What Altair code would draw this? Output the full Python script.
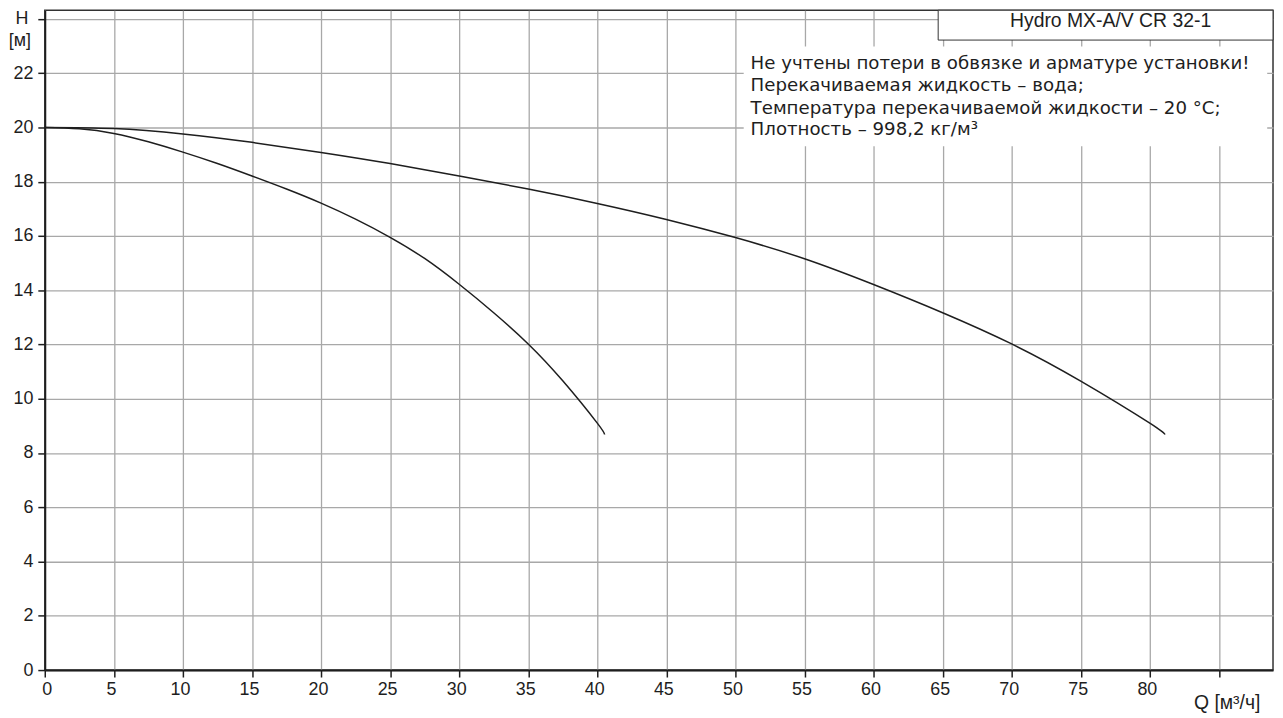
import altair as alt
import pandas as pd

# Curve data
q_one = [0, 2.5, 5, 7.5, 10, 12.5, 15, 17.5, 20, 22.5, 25, 27.5, 30, 32.5, 35, 37.5, 40, 40.53]
h_one = [20.0, 19.95, 19.78, 19.47, 19.09, 18.67, 18.21, 17.73, 17.21, 16.62, 15.95, 15.17, 14.22, 13.17, 12.02, 10.66, 9.1, 8.68]
q_two = [0, 5, 10, 15, 20, 25, 30, 35, 40, 45, 50, 55, 60, 65, 70, 75, 80, 81.1]
h_two = [20.0, 19.96, 19.76, 19.45, 19.08, 18.67, 18.21, 17.73, 17.2, 16.61, 15.94, 15.16, 14.21, 13.17, 12.02, 10.65, 9.1, 8.68]

x_ticks = list(range(0, 90, 5))
y_ticks = list(range(0, 26, 2))

title_text = "Hydro MX-A/V CR 32-1"
note_lines = [
    "Не учтены потери в обвязке и арматуре установки!",
    "Перекачиваемая жидкость – вода;",
    "Температура перекачиваемой жидкости – 20 °C;",
    "Плотность – 998,2 кг/м³",
]
note_y = [22.16, 21.33, 20.50, 19.71]

X_MAX = 88.92
Y_MAX = 24.32
FONT = "Liberation Sans"
NOTE_FONT = "DejaVu Sans"
INK = "#1e1e1e"

curves = pd.DataFrame(
    {"Q": q_one + q_two, "H": h_one + h_two,
     "curve": ["one"] * len(q_one) + ["two"] * len(q_two),
     "order": list(range(len(q_one))) + list(range(len(q_two)))}
)

xs = alt.Scale(domain=[0, X_MAX], nice=False, zero=False)
ys = alt.Scale(domain=[0, Y_MAX], nice=False, zero=False)

x_axis = alt.Axis(
    values=x_ticks, title=None, grid=True,
    labelExpr="datum.value == 85 ? '' : datum.label",
    labelOffset=-3, labelPadding=4,
)
y_axis = alt.Axis(
    values=y_ticks, title=None, grid=True,
    labelExpr="datum.value == 24 ? '' : datum.label",
    labelPadding=5,
)

lines = alt.Chart(curves).mark_line(
    interpolate="natural", color=INK, strokeWidth=1.5
).encode(
    x=alt.X("Q:Q", scale=xs, axis=x_axis),
    y=alt.Y("H:Q", scale=ys, axis=y_axis),
    detail="curve:N",
    order="order:Q",
)

base = alt.Chart(pd.DataFrame({"a": [0]}))

note_bg = base.mark_rect(color="white").encode(
    x=alt.datum(50.6, scale=xs), x2=alt.datum(88.5),
    y=alt.datum(22.98, scale=ys), y2=alt.datum(19.31),
)

title_box = base.mark_rect(fill="white", stroke="#333333", strokeWidth=1).encode(
    x=alt.datum(64.68, scale=xs), x2=alt.datum(X_MAX),
    y=alt.datum(Y_MAX, scale=ys), y2=alt.datum(23.22),
)

title_mark = base.mark_text(
    text=title_text, font=FONT, fontSize=19.5, color=INK,
    align="center", baseline="alphabetic",
).encode(x=alt.datum(77.16, scale=xs), y=alt.datum(23.71, scale=ys))

notes = alt.Chart(pd.DataFrame({"t": note_lines, "y": note_y})).mark_text(
    font=NOTE_FONT, fontSize=18.3, color=INK, align="left", baseline="alphabetic",
).encode(
    x=alt.datum(51.1, scale=xs),
    y=alt.Y("y:Q", scale=ys),
    text="t:N",
)

h_label = base.mark_text(
    text="H", font=FONT, fontSize=18, color=INK, align="center", baseline="middle"
).encode(x=alt.datum(-1.65, scale=xs), y=alt.datum(24.0, scale=ys))

unit_label = base.mark_text(
    text="[м]", font=FONT, fontSize=18, color=INK, align="center", baseline="middle"
).encode(x=alt.datum(-1.8, scale=xs), y=alt.datum(23.2, scale=ys))

q_label = base.mark_text(
    text="Q [м³/ч]", font=FONT, fontSize=19.5, color=INK, align="center", baseline="middle"
).encode(x=alt.datum(85.6, scale=xs), y=alt.datum(-1.22, scale=ys))

chart = alt.layer(
    lines, note_bg, title_box, title_mark, notes, h_label, unit_label, q_label
).properties(
    width=1236, height=664,
    padding={"left": 37, "top": 0, "right": 2, "bottom": 46},
    autosize=alt.AutoSizeParams(type="none"),
    background="white",
).configure_view(
    stroke="#333333", strokeWidth=1.5
).configure_axis(
    labelFont=FONT, labelFontSize=18, labelColor=INK,
    gridColor="#a8a8a8", gridWidth=1.3, gridOpacity=1,
    domainColor=INK, domainWidth=2,
    tickColor=INK, tickWidth=1.5, tickSize=7,
)

chart.save("out.html", embed_options={"renderer": "svg", "actions": False})
